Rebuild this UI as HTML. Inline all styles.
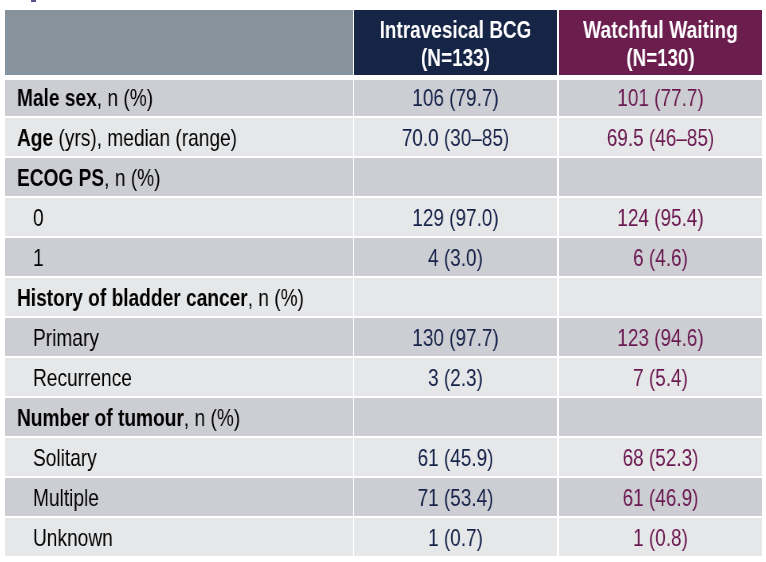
<!DOCTYPE html>
<html><head><meta charset="utf-8"><style>
html,body{margin:0;padding:0;background:#fff;width:766px;height:562px;overflow:hidden}
body{position:relative;font-family:"Liberation Sans",Arial,sans-serif;font-size:24px}
.c{position:absolute}
body>div{will-change:transform}
.t{position:absolute;white-space:nowrap;line-height:40px;height:40px}
.l{transform-origin:0 50%;transform:scaleX(0.797)}
.m{text-align:center;transform:scaleX(0.79)}
.h{position:absolute;white-space:nowrap;line-height:28px;text-align:center;color:#fff;font-weight:bold;transform:scaleX(0.79)}
.dk{background:#cdced3}
.lt{background:#e6e7e9}
.c2{color:#142148}
.c3{color:#6a1850}
.c1{color:#000000}
</style></head><body>
<div class="c" style="left:30.7px;top:0;width:5.2px;height:1.8px;background:#58528f"></div>
<div class="c" style="left:5px;top:10px;width:347.5px;height:65px;background:#86929c"></div>
<div class="c" style="left:354px;top:10px;width:203px;height:65px;background:#162446"></div>
<div class="c" style="left:559px;top:10px;width:203px;height:65px;background:#6b1e4e"></div>
<div class="h" style="left:354px;top:15.5px;width:203px;transform:scaleX(0.79)">Intravesical BCG</div>
<div class="h" style="left:354px;top:43.5px;width:203px;transform:scaleX(0.79)">(N=133)</div>
<div class="h" style="left:559px;top:15.5px;width:203px;transform:scaleX(0.803)">Watchful Waiting</div>
<div class="h" style="left:559px;top:43.5px;width:203px;transform:scaleX(0.78)">(N=130)</div>
<div class="c dk" style="left:5px;top:80px;width:347.5px;height:36px"></div>
<div class="c dk" style="left:354px;top:80px;width:203px;height:36px"></div>
<div class="c dk" style="left:559px;top:80px;width:203px;height:36px"></div>
<div class="t l c1" style="left:17.0px;top:77.5px"><b>Male sex</b>, n (%)</div>
<div class="t m c2" style="left:354px;top:77.5px;width:203px">106 (79.7)</div>
<div class="t m c3" style="left:559px;top:77.5px;width:203px">101 (77.7)</div>
<div class="c lt" style="left:5px;top:118px;width:347.5px;height:38px"></div>
<div class="c lt" style="left:354px;top:118px;width:203px;height:38px"></div>
<div class="c lt" style="left:559px;top:118px;width:203px;height:38px"></div>
<div class="t l c1" style="left:17.0px;top:117.5px"><b>Age</b> (yrs), median (range)</div>
<div class="t m c2" style="left:354px;top:117.5px;width:203px">70.0 (30–85)</div>
<div class="t m c3" style="left:559px;top:117.5px;width:203px">69.5 (46–85)</div>
<div class="c dk" style="left:5px;top:158px;width:347.5px;height:38px"></div>
<div class="c dk" style="left:354px;top:158px;width:203px;height:38px"></div>
<div class="c dk" style="left:559px;top:158px;width:203px;height:38px"></div>
<div class="t l c1" style="left:17.0px;top:157.5px"><b>ECOG PS</b>, n (%)</div>
<div class="c lt" style="left:5px;top:198px;width:347.5px;height:38px"></div>
<div class="c lt" style="left:354px;top:198px;width:203px;height:38px"></div>
<div class="c lt" style="left:559px;top:198px;width:203px;height:38px"></div>
<div class="t l c1" style="left:32.9px;top:197.5px">0</div>
<div class="t m c2" style="left:354px;top:197.5px;width:203px">129 (97.0)</div>
<div class="t m c3" style="left:559px;top:197.5px;width:203px">124 (95.4)</div>
<div class="c dk" style="left:5px;top:238px;width:347.5px;height:38px"></div>
<div class="c dk" style="left:354px;top:238px;width:203px;height:38px"></div>
<div class="c dk" style="left:559px;top:238px;width:203px;height:38px"></div>
<div class="t l c1" style="left:32.9px;top:237.5px">1</div>
<div class="t m c2" style="left:354px;top:237.5px;width:203px">4 (3.0)</div>
<div class="t m c3" style="left:559px;top:237.5px;width:203px">6 (4.6)</div>
<div class="c lt" style="left:5px;top:278px;width:347.5px;height:38px"></div>
<div class="c lt" style="left:354px;top:278px;width:203px;height:38px"></div>
<div class="c lt" style="left:559px;top:278px;width:203px;height:38px"></div>
<div class="t l c1" style="left:17.0px;top:277.5px"><b>History of bladder cancer</b>, n (%)</div>
<div class="c dk" style="left:5px;top:318px;width:347.5px;height:38px"></div>
<div class="c dk" style="left:354px;top:318px;width:203px;height:38px"></div>
<div class="c dk" style="left:559px;top:318px;width:203px;height:38px"></div>
<div class="t l c1" style="left:32.9px;top:317.5px">Primary</div>
<div class="t m c2" style="left:354px;top:317.5px;width:203px">130 (97.7)</div>
<div class="t m c3" style="left:559px;top:317.5px;width:203px">123 (94.6)</div>
<div class="c lt" style="left:5px;top:358px;width:347.5px;height:38px"></div>
<div class="c lt" style="left:354px;top:358px;width:203px;height:38px"></div>
<div class="c lt" style="left:559px;top:358px;width:203px;height:38px"></div>
<div class="t l c1" style="left:32.9px;top:357.5px">Recurrence</div>
<div class="t m c2" style="left:354px;top:357.5px;width:203px">3 (2.3)</div>
<div class="t m c3" style="left:559px;top:357.5px;width:203px">7 (5.4)</div>
<div class="c dk" style="left:5px;top:398px;width:347.5px;height:38px"></div>
<div class="c dk" style="left:354px;top:398px;width:203px;height:38px"></div>
<div class="c dk" style="left:559px;top:398px;width:203px;height:38px"></div>
<div class="t l c1" style="left:17.0px;top:397.5px"><b>Number of tumour</b>, n (%)</div>
<div class="c lt" style="left:5px;top:438px;width:347.5px;height:38px"></div>
<div class="c lt" style="left:354px;top:438px;width:203px;height:38px"></div>
<div class="c lt" style="left:559px;top:438px;width:203px;height:38px"></div>
<div class="t l c1" style="left:32.9px;top:437.5px">Solitary</div>
<div class="t m c2" style="left:354px;top:437.5px;width:203px">61 (45.9)</div>
<div class="t m c3" style="left:559px;top:437.5px;width:203px">68 (52.3)</div>
<div class="c dk" style="left:5px;top:478px;width:347.5px;height:38px"></div>
<div class="c dk" style="left:354px;top:478px;width:203px;height:38px"></div>
<div class="c dk" style="left:559px;top:478px;width:203px;height:38px"></div>
<div class="t l c1" style="left:32.9px;top:477.5px">Multiple</div>
<div class="t m c2" style="left:354px;top:477.5px;width:203px">71 (53.4)</div>
<div class="t m c3" style="left:559px;top:477.5px;width:203px">61 (46.9)</div>
<div class="c lt" style="left:5px;top:518px;width:347.5px;height:38px"></div>
<div class="c lt" style="left:354px;top:518px;width:203px;height:38px"></div>
<div class="c lt" style="left:559px;top:518px;width:203px;height:38px"></div>
<div class="t l c1" style="left:32.9px;top:517.5px">Unknown</div>
<div class="t m c2" style="left:354px;top:517.5px;width:203px">1 (0.7)</div>
<div class="t m c3" style="left:559px;top:517.5px;width:203px">1 (0.8)</div>
</body></html>
